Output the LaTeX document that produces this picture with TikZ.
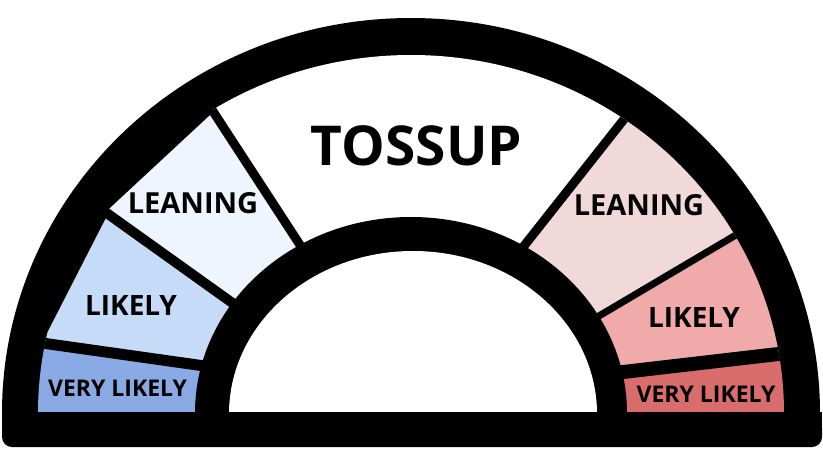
\documentclass[tikz,border=0pt]{standalone}
\usepackage{fontspec}
\setmainfont{Open Sans}
\definecolor{VLBlue}{HTML}{8AAAE5}
\definecolor{LkBlue}{HTML}{C6DBF7}
\definecolor{LnBlue}{HTML}{EEF5FE}
\definecolor{LnRed}{HTML}{F2D9D9}
\definecolor{LkRed}{HTML}{F1AAAA}
\definecolor{VLRed}{HTML}{D96D6D}

\begin{document}
\begin{tikzpicture}[
        x=1pt, y=-1pt,
        lbl/.style={font=\bfseries\fontsize{#1}{#1}\selectfont, anchor=base, inner sep=0pt},
        dv/.style={line width=#1, black}
      ]
        \useasboundingbox (0,0) rectangle (823,461);
        % outer ring
        \fill (2,413) arc[start angle=180, end angle=360, x radius=409, y radius=395] -- cycle;
        \begin{scope}
          \clip (411,413) ellipse [x radius=373, y radius=358];
          \fill[VLBlue] (0,336) -- (240,371) -- (240,420) -- (0,420) -- cycle;
          \fill[LkBlue] (108,214) -- (280,337) -- (240,371) -- (42,343) -- cycle;
          \fill[LnBlue] (213.4,112) -- (330,291) -- (280,337) -- (105.5,212.2) -- cycle;
          \fill[white]  (175,0) -- (175,53) -- (330,291) -- (490,289) -- (670,61) -- (670,0) -- cycle;
          \fill[LnRed]  (670,0) -- (670,61) -- (490,289) -- (560,339) -- (790,203) -- (823,203) -- (823,0) -- cycle;
          \fill[LkRed]  (560,339) -- (790,203) -- (830,203) -- (830,348) -- (580,377) -- cycle;
          \fill[VLRed]  (580,377) -- (830,348) -- (830,420) -- (580,420) -- cycle;
          % dividers
          \foreach \p/\q/\w in {{42,343}/{240,371}/11pt, {105.5,212.2}/{280,337}/10pt,
                                {175,53}/{330,291}/9pt, {670,61}/{490,289}/9pt,
                                {560,339}/{790,203}/7pt, {580,377}/{830,348}/14pt}
            \draw[dv=\w] (\p) -- (\q);
        \end{scope}
        % hub
        \fill (195,413) arc[start angle=180, end angle=360, x radius=216, y radius=196] -- cycle;
        \fill[white] (229,414) arc[start angle=180, end angle=360, x radius=184, y radius=163] -- cycle;
        % base
        \fill (2,412) rectangle (822,430);
        \fill[rounded corners=10pt] (2,418) rectangle (822,447);
        % labels
        \node[lbl=55] (toss)  at (416.5,165) {TOSSUP};
        \node[lbl=29] (lnL)   at (193,213)   {LEANING};
        \node[lbl=29] (lnR)   at (639,215)   {LEANING};
        \node[lbl=28] (lkL)   at (131,315)   {LIKELY};
        \node[lbl=28] (lkR)   at (694,327)   {LIKELY};
        \node[lbl=23] (vlL)   at (117.5,396) {VERY LIKELY};
        \node[lbl=23] (vlR)   at (706,402)   {VERY LIKELY};
      \end{tikzpicture}
\end{document}
